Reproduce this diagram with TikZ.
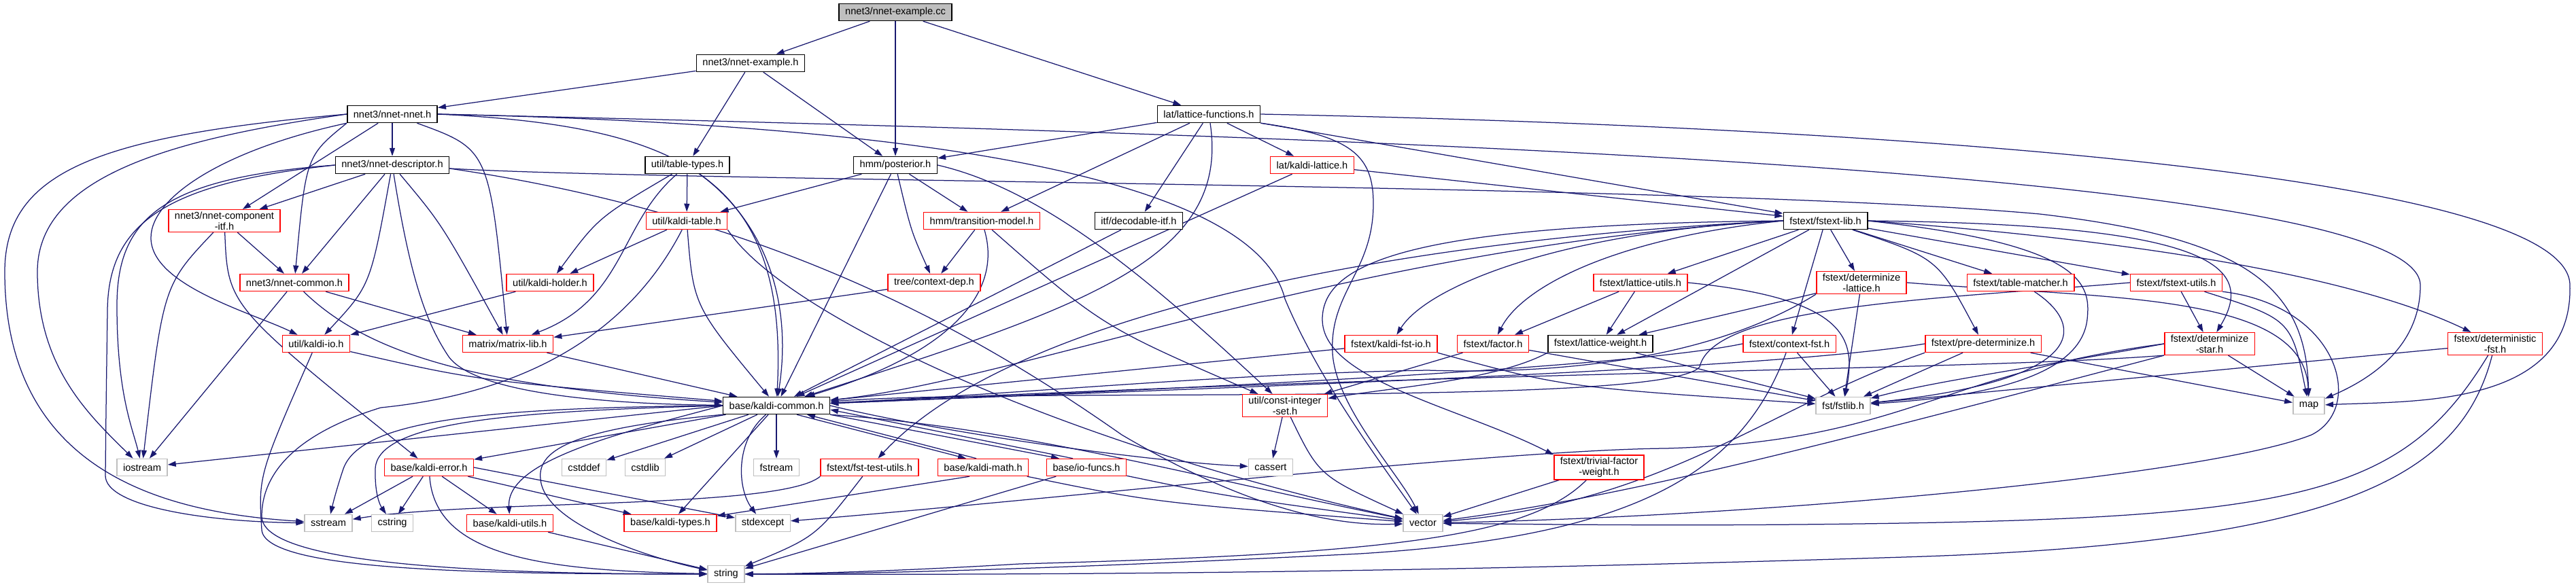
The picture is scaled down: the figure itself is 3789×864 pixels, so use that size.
\documentclass[tikz,border=0pt]{standalone}
\usepackage{fontspec}
\setmainfont{Liberation Sans}
\usetikzlibrary{arrows.meta,backgrounds}
\definecolor{edgenavy}{HTML}{191970}
\definecolor{sysgray}{HTML}{BFBFBF}
\tikzset{
  hdr/.style={draw=black, fill=white, line width=1.5pt, minimum height=25pt, inner xsep=9pt, inner ysep=3pt, align=center, font=\fontsize{14.6}{16}\selectfont},
  hdrred/.style={hdr, draw=red},
  hdrsys/.style={hdr, draw=sysgray},
  hdrsrc/.style={hdr, fill=sysgray},
  incl/.style={draw=edgenavy, line width=1.25pt, -{Triangle[length=12pt,width=8pt]}}
}

\begin{document}
\begin{tikzpicture}[x=1pt,y=-1pt]
\useasboundingbox (0,0) rectangle (3789,864);
% headers, row by row
\node[hdrsrc] (excc) at (1317,18) {nnet3/nnet-example.cc};
\node[hdr] (exh) at (1104,93) {nnet3/nnet-example.h};
\node[hdr] (nnet) at (577,168) {nnet3/nnet-nnet.h};
\node[hdr] (latfun) at (1778,168) {lat/lattice-functions.h};
\node[hdr] (desc) at (577,243) {nnet3/nnet-descriptor.h};
\node[hdr] (tabtypes) at (1011,243) {util/table-types.h};
\node[hdr] (post) at (1317,243) {hmm/posterior.h};
\node[hdrred] (klat) at (1930,243) {lat/kaldi-lattice.h};
\node[hdrred] (compitf) at (330,325) {nnet3/nnet-component\\-itf.h};
\node[hdrred] (ktable) at (1010,325) {util/kaldi-table.h};
\node[hdrred] (tmodel) at (1444,325) {hmm/transition-model.h};
\node[hdr] (decitf) at (1675,325) {itf/decodable-itf.h};
\node[hdr] (fstextlib) at (2685,325) {fstext/fstext-lib.h};
\node[hdrred] (ncommon) at (433,416) {nnet3/nnet-common.h};
\node[hdrred] (holder) at (809,416) {util/kaldi-holder.h};
\node[hdrred] (cdep) at (1374,416) {tree/context-dep.h};
\node[hdrred] (latutils) at (2413,416) {fstext/lattice-utils.h};
\node[hdrred] (detlat) at (2738,416) {fstext/determinize\\-lattice.h};
\node[hdrred] (tmatch) at (2972,416) {fstext/table-matcher.h};
\node[hdrred] (fstutils) at (3201,416) {fstext/fstext-utils.h};
\node[hdrred] (kio) at (465,506) {util/kaldi-io.h};
\node[hdrred] (matrix) at (747,506) {matrix/matrix-lib.h};
\node[hdrred] (kfstio) at (2046,506) {fstext/kaldi-fst-io.h};
\node[hdrred] (factor) at (2196,506) {fstext/factor.h};
\node[hdr] (latw) at (2354,506) {fstext/lattice-weight.h};
\node[hdrred] (cfst) at (2632,506) {fstext/context-fst.h};
\node[hdrred] (predet) at (2917,506) {fstext/pre-determinize.h};
\node[hdrred] (detstar) at (3250,506) {fstext/determinize\\-star.h};
\node[hdrred] (detfst) at (3670,506) {fstext/deterministic\\-fst.h};
\node[hdr] (kcommon) at (1142,597) {base/kaldi-common.h};
\node[hdrred] (cis) at (1890,597) {util/const-integer\\-set.h};
\node[hdrsys] (fstlib) at (2711,597) {fst/fstlib.h};
\node[hdrsys] (map) at (3396,597) {map};
\node[hdrsys] (iostream) at (209,688) {iostream};
\node[hdrred] (kerror) at (631,688) {base/kaldi-error.h};
\node[hdrsys] (cstddef) at (859,688) {cstddef};
\node[hdrsys] (cstdlib) at (949,688) {cstdlib};
\node[hdrsys] (fstream) at (1142,688) {fstream};
\node[hdrred] (ftest) at (1279,688) {fstext/fst-test-utils.h};
\node[hdrred] (kmath) at (1446,688) {base/kaldi-math.h};
\node[hdrred] (iofuncs) at (1598,688) {base/io-funcs.h};
\node[hdrsys] (cassert) at (1869,688) {cassert};
\node[hdrred] (trivial) at (2352,688) {fstext/trivial-factor\\-weight.h};
\node[hdrsys] (sstream) at (483,770) {sstream};
\node[hdrsys] (cstring) at (577,770) {cstring};
\node[hdrred] (kutils) at (750,770) {base/kaldi-utils.h};
\node[hdrred] (ktypes) at (986,770) {base/kaldi-types.h};
\node[hdrsys] (stdexcept) at (1122,770) {stdexcept};
\node[hdrsys] (vector) at (2093,770) {vector};
\node[hdrsys] (string) at (1068,845) {string};
\begin{scope}[on background layer]
% the source file and nnet-example.h
\draw[incl] (excc) -- (exh);
\draw[incl] (excc) -- (post);
\draw[incl] (excc) -- (latfun);
\draw[incl] (exh) -- (nnet);
\draw[incl] (exh) -- (tabtypes);
\draw[incl] (exh) -- (post);
% nnet-nnet.h
\draw[incl] (nnet) -- (desc);
\draw[incl] (nnet) -- (compitf);
\draw[incl] (nnet.south west) .. controls (450,230) .. (ncommon);
\draw[incl] (nnet.south west) .. controls (330,220) and (222,290) .. (222,350) .. controls (222,420) and (370,460) .. (kio);
\draw[incl] (nnet) .. controls (720,220) .. (matrix);
\draw[incl] (nnet.east) .. controls (1000,185) and (1160,260) .. (kcommon);
\draw[incl] (nnet.west) .. controls (250,205) and (55,260) .. (55,400) .. controls (55,540) and (130,610) .. (iostream);
\draw[incl] (nnet.west) .. controls (150,200) and (7,250) .. (7,400) .. controls (7,700) and (250,755) .. (sstream);
\draw[incl] (nnet.east) .. controls (1450,185) and (1850,280) .. (1890,440) .. controls (1940,560) and (2030,680) .. (vector);
\draw[incl] (nnet.east) .. controls (2000,200) and (3560,250) .. (3560,420) .. controls (3560,520) and (3470,565) .. (map);
% nnet-descriptor.h
\draw[incl] (desc) -- (compitf);
\draw[incl] (desc) -- (ncommon);
\draw[incl] (desc) .. controls (545,420) .. (kio);
\draw[incl] (desc) .. controls (650,330) .. (matrix);
\draw[incl] (desc) .. controls (605,420) and (630,480) .. (660,525) .. controls (700,580) and (900,595) .. (kcommon);
\draw[incl] (desc.west) .. controls (240,262) and (172,320) .. (172,450) .. controls (172,580) and (195,630) .. (iostream);
\draw[incl] (desc.west) .. controls (240,270) and (158,330) .. (158,460) .. controls (156,600) .. (155,700) .. controls (155,745) and (300,768) .. (sstream);
\draw[incl] ([yshift=-5pt]desc.east) .. controls (1150,320) and (1450,500) .. (1650,640) .. controls (1820,740) and (1950,775) .. (vector);
\draw[incl] ([yshift=-5pt]desc.east) .. controls (1000,268) and (2500,270) .. (3000,315) .. controls (3300,350) and (3392,420) .. (map);
% nnet-component-itf.h, nnet-common.h
\draw[incl] (compitf) -- (ncommon);
\draw[incl] (compitf) .. controls (240,420) .. (iostream);
\draw[incl] (compitf) .. controls (335,450) .. (kerror);
\draw[incl] (ncommon) -- (iostream);
\draw[incl] (ncommon) .. controls (540,520) and (700,570) .. (kcommon);
\draw[incl] (ncommon) -- (matrix);
% kaldi-io.h, matrix-lib.h
\draw[incl] (kio) .. controls (700,560) .. (kcommon);
\draw[incl] (kio) .. controls (380,700) .. (385,780) .. controls (390,840) and (700,845) .. (string);
\draw[incl] (matrix) -- (kcommon);
% table-types.h, kaldi-table.h, kaldi-holder.h
\draw[incl] (tabtypes) -- (ktable);
\draw[incl] (tabtypes) .. controls (880,320) .. (holder);
\draw[incl] (tabtypes) .. controls (910,330) and (920,440) .. (matrix);
\draw[incl] (tabtypes) .. controls (1130,330) and (1165,450) .. (kcommon);
\draw[incl] (ktable) -- (holder);
\draw[incl] (ktable) .. controls (1020,450) .. (kcommon);
\draw[incl] (ktable) .. controls (920,500) and (760,580) .. (560,600) .. controls (430,640) and (385,700) .. (385,760) .. controls (385,830) and (700,845) .. (string);
\draw[incl] (ktable.south east) .. controls (1150,460) and (1550,650) .. (vector);
\draw[incl] (holder) -- (kio);
% posterior.h
\draw[incl] (post) -- (ktable);
\draw[incl] (post) -- (tmodel);
\draw[incl] (post) .. controls (1340,340) .. (cdep);
\draw[incl] (post) -- (kcommon);
\draw[incl] (post.east) .. controls (1540,280) and (1700,420) .. (cis);
% lattice-functions.h
\draw[incl] (latfun) -- (post);
\draw[incl] (latfun) -- (tmodel);
\draw[incl] (latfun) -- (decitf);
\draw[incl] (latfun) -- (klat);
\draw[incl] (latfun) .. controls (1810,380) and (1600,450) .. (kcommon);
\draw[incl] (latfun) -- (fstextlib);
\draw[incl] (latfun.south east) .. controls (1990,200) and (2020,230) .. (2020,300) .. controls (2020,400) and (1955,430) .. (1960,520) .. controls (1965,600) and (2060,700) .. (vector);
\draw[incl] (latfun.east) .. controls (2700,185) and (3780,250) .. (3780,420) .. controls (3785,600) and (3550,590) .. (map);
\draw[incl] (klat) -- (fstextlib);
\draw[incl] (klat) -- (kcommon);
% transition-model.h, context-dep.h, decodable-itf.h
\draw[incl] (tmodel) -- (cdep);
\draw[incl] (tmodel) .. controls (1475,430) and (1400,520) .. (kcommon);
\draw[incl] (tmodel) .. controls (1620,480) .. (cis);
\draw[incl] (cdep) -- (matrix);
\draw[incl] (decitf) -- (kcommon);
% fstext-lib.h
\draw[incl] (fstextlib) -- (latutils);
\draw[incl] (fstextlib) -- (latw);
\draw[incl] (fstextlib) -- (cfst);
\draw[incl] (fstextlib) -- (detlat);
\draw[incl] (fstextlib) .. controls (2850,380) .. (predet);
\draw[incl] (fstextlib) -- (tmatch);
\draw[incl] (fstextlib) -- (fstutils);
\draw[incl] (fstextlib.east) .. controls (3100,350) and (3450,400) .. (detfst);
\draw[incl] (fstextlib.east) .. controls (3250,330) and (3320,390) .. (detstar);
\draw[incl] (fstextlib.east) .. controls (3070,360) and (3075,420) .. (3070,470) .. controls (3060,560) and (2900,585) .. (fstlib);
\draw[incl] (fstextlib.west) .. controls (2380,350) and (2240,420) .. (factor);
\draw[incl] (fstextlib.west) .. controls (2300,340) and (2100,420) .. (kfstio);
\draw[incl] (fstextlib.west) .. controls (2100,330) and (1945,380) .. (1945,470) .. controls (1945,560) and (2150,600) .. (trivial.north west);
\draw[incl] (fstextlib.west) .. controls (2100,350) and (1500,450) .. (ftest);
\draw[incl] (fstextlib.west) .. controls (2000,360) and (1500,560) .. (kcommon);
% fstext headers one row down
\draw[incl] (latutils) -- (factor);
\draw[incl] (latutils) -- (latw);
\draw[incl] (latutils.east) .. controls (2720,440) and (2730,500) .. (fstlib);
\draw[incl] (detlat) -- (latw);
\draw[incl] (detlat) -- (fstlib);
\draw[incl] (detlat.east) .. controls (3100,440) and (3390,430) .. (map);
\draw[incl] (detlat.south west) .. controls (2500,540) and (2250,550) .. (2100,545) .. controls (1800,550) and (1500,580) .. (kcommon);
\draw[incl] (tmatch) .. controls (3070,480) and (3070,560) .. (fstlib);
\draw[incl] (fstutils) -- (detstar);
\draw[incl] (fstutils.west) .. controls (2850,440) and (2520,450) .. (2500,540) .. controls (2450,600) and (1500,570) .. (kcommon);
\draw[incl] (fstutils) .. controls (3370,470) .. (map);
\draw[incl] (fstutils.south east) .. controls (3440,450) and (3480,600) .. (3400,640) .. controls (3250,700) and (2600,760) .. (vector);
% determinize-star.h, deterministic-fst.h
\draw[incl] (detstar) -- (map);
\draw[incl] (detstar.west) .. controls (3000,540) and (2850,560) .. (fstlib);
\draw[incl] (detstar.south west) .. controls (2700,650) and (2400,730) .. (vector);
\draw[incl] (detstar.south west) .. controls (2900,545) and (2200,545) .. (kcommon);
\draw[incl] (detstar.west) .. controls (2850,550) and (2800,650) .. (2450,660) .. controls (2200,662) and (1500,740) .. (stdexcept);
\draw[incl] (detfst) -- (fstlib);
\draw[incl] (detfst) .. controls (3540,720) and (3400,760) .. (2800,770) .. controls (2500,775) and (2300,772) .. (vector);
\draw[incl] (detfst) .. controls (3620,700) and (3450,800) .. (2800,820) .. controls (2000,845) and (1500,846) .. (string);
% context-fst.h, pre-determinize.h
\draw[incl] (cfst) -- (fstlib);
\draw[incl] (cfst.west) .. controls (2400,540) and (1800,570) .. (kcommon);
\draw[incl] (cfst) .. controls (2560,700) and (2400,790) .. (2000,815) .. controls (1600,835) and (1300,845) .. (string);
\draw[incl] (predet) -- (fstlib);
\draw[incl] (predet) -- (map);
\draw[incl] (predet.west) .. controls (2600,545) and (1800,570) .. (kcommon);
\draw[incl] (predet.south west) .. controls (2600,600) and (2450,740) .. (vector);
% factor.h, lattice-weight.h, kaldi-fst-io.h
\draw[incl] (factor) -- (fstlib);
\draw[incl] (factor) -- (cis);
\draw[incl] (latw) -- (fstlib);
\draw[incl] (latw.south west) .. controls (2200,560) and (2050,570) .. (cis);
\draw[incl] (kfstio) -- (kcommon);
\draw[incl] (kfstio.south east) .. controls (2300,570) .. (fstlib);
% trivial-factor-weight.h, const-integer-set.h
\draw[incl] (trivial) -- (vector);
\draw[incl] (trivial) .. controls (2250,790) and (2050,815) .. (1500,830) .. controls (1300,842) and (1150,845) .. (string);
\draw[incl] (cis) -- (cassert);
\draw[incl] (cis) .. controls (1940,700) .. (vector);
% kaldi-common.h
\draw[incl] (kcommon.west) -- (iostream);
\draw[incl] (kcommon) -- (kerror);
\draw[incl] (kcommon) -- (cstddef);
\draw[incl] (kcommon) -- (cstdlib);
\draw[incl] (kcommon) -- (fstream);
\draw[incl] (kcommon) -- (ktypes);
\draw[incl] (kcommon) .. controls (1080,650) and (1085,720) .. (stdexcept);
\draw[incl] (kcommon.west) .. controls (700,600) and (530,620) .. (505,690) .. controls (495,720) and (490,740) .. (sstream);
\draw[incl] (kcommon.west) .. controls (760,605) and (555,620) .. (552,690) .. controls (551,730) and (560,745) .. (cstring);
\draw[incl] (kcommon.west) .. controls (900,640) and (745,680) .. (kutils);
\draw[incl] (kcommon.south west) .. controls (850,630) and (790,660) .. (795,705) .. controls (800,770) and (950,820) .. (string);
\draw[incl] ([xshift=30pt]kcommon.south) -- ([xshift=-25pt]kmath.north);
\draw[incl] ([xshift=-10pt]kmath.north) -- ([xshift=45pt]kcommon.south);
\draw[incl] (kcommon.south east) -- ([xshift=-40pt]iofuncs.north);
\draw[incl] ([xshift=-20pt]iofuncs.north) -- ([yshift=-6pt]kcommon.east);
\draw[incl] (kcommon.east) .. controls (1400,640) and (1700,680) .. (cassert);
\draw[incl] (kcommon.south east) .. controls (1500,630) and (1750,700) .. (vector);
% kaldi-math.h, io-funcs.h, fst-test-utils.h
\draw[incl] ([xshift=-20pt]kmath.south) -- (ktypes);
\draw[incl] (kmath) .. controls (1700,740) .. (vector);
\draw[incl] (iofuncs) -- (string);
\draw[incl] (iofuncs) .. controls (1800,730) .. (vector);
\draw[incl] (ftest) .. controls (1200,790) .. (string);
\draw[incl] (ftest.south west) .. controls (1150,750) and (700,735) .. (sstream);
% kaldi-error.h, kaldi-utils.h
\draw[incl] (kerror) -- (sstream);
\draw[incl] (kerror) -- (cstring);
\draw[incl] (kerror) -- (kutils);
\draw[incl] (kerror) -- (ktypes);
\draw[incl] (kerror.east) -- (stdexcept);
\draw[incl] (kerror) .. controls (640,820) and (800,840) .. (string);
\draw[incl] (kutils) -- (string);
\end{scope}
\end{tikzpicture}
\end{document}
